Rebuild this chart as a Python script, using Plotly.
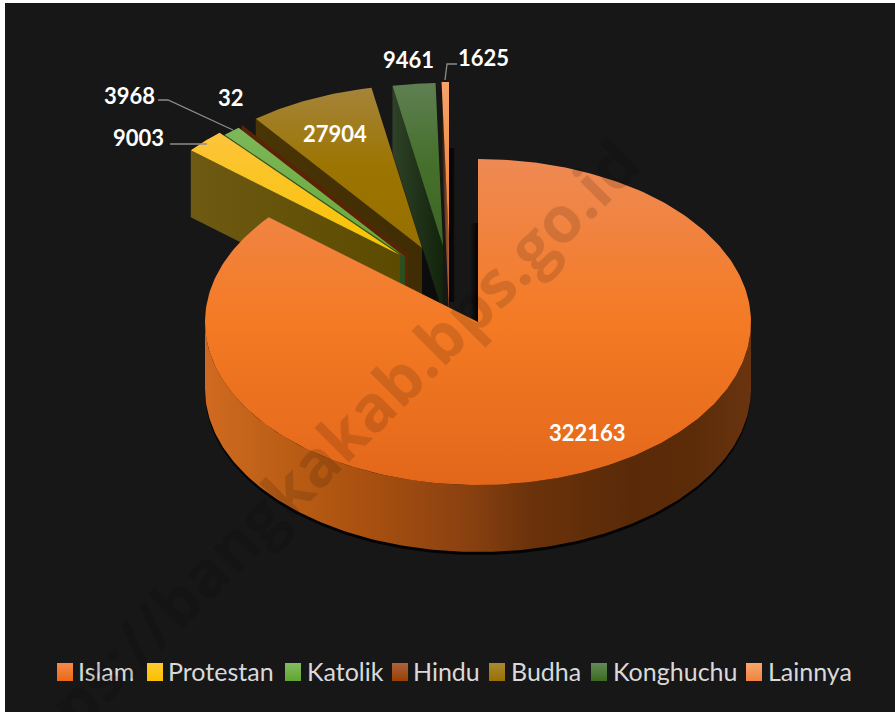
import numpy as np
import plotly.graph_objects as go

# ---- data ----
CATEGORIES = ["Islam", "Protestan", "Katolik", "Hindu", "Budha", "Konghuchu", "Lainnya"]
VALUES = [322163, 9003, 3968, 32, 27904, 9461, 1625]

# ---- styling / layout constants (pixel space of the 895x712 page) ----
W, H = 895, 712
PANEL = "#171717"
CX, CY, RX, RY, DEPTH = 478, 322, 273, 163, 67
PULL = [(0, 0), (-78, -67), (-73, -65), (-70, -68), (-56, -74), (-35, -76), (-29, -77)]
TOP_GRAD = [
    [[0, "#ee8a54"], [0.5, "#f47a24"], [1, "#e3671a"]],
    [[0, "#fdc43b"], [1, "#f8c400"]],
    [[0, "#7db75a"], [1, "#66a838"]],
    [[0, "#a9603a"], [1, "#9e480e"]],
    [[0, "#a5843a"], [0.5, "#9c7400"], [1, "#967000"]],
    [[0, "#5f7f52"], [0.5, "#45702b"], [1, "#3d6525"]],
    [[0, "#f7a36a"], [1, "#ed7d31"]],
]
WALL_GRAD = [
    None,
    [[0, "#6e5a12"], [1, "#5c4a00"]],
    [[0, "#2f5a24"], [1, "#2b4f1c"]],
    [[0, "#5a2305"], [1, "#5a2305"]],
    [[0, "#4a3505"], [1, "#3f2c03"]],
    [[0, "#2e4228"], [1, "#12240b"]],
    [[0, "#1a120c"], [1, "#b5622f"]],
]
ISLAM_WALL = [[0, "#d06a20"], [0.17, "#b85c14"], [0.3, "#a85010"], [0.48, "#8a4110"],
              [0.6, "#6a320a"], [0.78, "#5a2a08"], [0.9, "#5c2c09"], [1, "#6a3410"]]
LEG_TOP = ["#f58a4c", "#ffcb33", "#84bb60", "#ad6240", "#aa8836", "#648a58", "#f9a66c"]
LEG_BOT = ["#e96a14", "#fac000", "#62a532", "#984000", "#9a7000", "#3c6a20", "#ef8440"]
LEG_SWATCH_X = [57, 147, 285, 392, 489, 591, 746]
LEG_TEXT_X = [76, 166, 305, 411, 509, 611, 766]
LEG_Y0, LEG_Y1, LEG_TEXT_Y = 663, 681, 671
LABEL_POS = [(587, 432), (138, 137), (129, 95), (231, 97), (335, 133), (408, 59), (483, 57)]
LEADERS = [
    [(170, 144), (207, 144)],
    [(158, 100), (168, 100), (233, 130)],
    [(457, 64), (447, 64), (445, 80)],
]
FONT = "Lato"


def arc(a0, a1, n=160):
    t = np.radians(np.linspace(a0, a1, n))
    return CX + RX * np.sin(t), CY - RY * np.cos(t)


def add_poly(fig, xs, ys, grad=None, color=None, orient="vertical", start=None, stop=None):
    kw = dict(x=list(xs) + [xs[0]], y=list(ys) + [ys[0]], mode="lines", fill="toself",
              line=dict(width=0), hoverinfo="skip", showlegend=False)
    if grad is not None:
        kw["fillgradient"] = dict(type=orient, colorscale=grad, start=start, stop=stop)
        kw["fillcolor"] = grad[0][1]
    else:
        kw["fillcolor"] = color
    fig.add_trace(go.Scatter(**kw))


total = sum(VALUES)
ends = np.cumsum(VALUES) / total * 360
starts = np.concatenate([[0], ends[:-1]])

fig = go.Figure()

# soft drop shadows behind the thin back slices
add_poly(fig, [449, 455, 455, 449], [148, 148, 302, 302],
         grad=[[0, "#060606"], [0.7, "#080808"], [1, PANEL]], orient="horizontal", start=449, stop=455)
add_poly(fig, [470, 478, 478, 470], [223, 223, 322, 322],
         grad=[[0, PANEL], [0.5, "#0c0c0c"], [1, "#030303"]], orient="horizontal", start=470, stop=478)
add_poly(fig, [421, 443, 443, 421], [250, 250, 312, 300], color="#0c0c0c")

# slices back to front
for i in [6, 5, 4, 3, 2, 1]:
    dx, dy = PULL[i]
    ax, ay = arc(starts[i], ends[i], 40)
    ax, ay = ax + dx, ay + dy
    px, py = CX + dx, CY + dy
    add_poly(fig, [ax[0], px, px, ax[0]], [ay[0], py, py + DEPTH, ay[0] + DEPTH],
             grad=WALL_GRAD[i], orient="horizontal", start=float(ax[0]), stop=float(px))
    add_poly(fig, list(ax) + [px], list(ay) + [py], grad=TOP_GRAD[i],
             start=float(min(ay)), stop=float(py))

# Islam slice: thin shadow, outer wall, then top face
wx, wy = arc(90, 270, 200)
add_poly(fig, list(wx) + list(wx[::-1]), list(wy) + list((wy + DEPTH + 3)[::-1]), color="#040404")
add_poly(fig, list(wx) + list(wx[::-1]), list(wy) + list((wy + DEPTH)[::-1]),
         grad=ISLAM_WALL, orient="horizontal", start=CX - RX, stop=CX + RX)
tx, ty = arc(0, ends[0], 300)
add_poly(fig, list(tx) + [CX], list(ty) + [CY], grad=TOP_GRAD[0],
         start=CY - RY, stop=CY + RY)

# legend swatches and entries
annotations = []
for name, c0, c1, sx, tx_ in zip(CATEGORIES, LEG_TOP, LEG_BOT, LEG_SWATCH_X, LEG_TEXT_X):
    add_poly(fig, [sx, sx + 16, sx + 16, sx], [LEG_Y0, LEG_Y0, LEG_Y1, LEG_Y1],
             grad=[[0, c0], [1, c1]], start=LEG_Y0, stop=LEG_Y1)
    annotations.append(dict(text=name, x=tx_, y=LEG_TEXT_Y, xanchor="left", showarrow=False,
                            font=dict(family=FONT, size=25, color="#d9d9d9")))

# leader lines
for pts in LEADERS:
    path = "M " + " L ".join(f"{x} {y}" for x, y in pts)
    fig.add_shape(type="path", path=path, line=dict(color="#8c8c8c", width=1.3))

annotations += [
    dict(text=str(v), x=p[0], y=p[1], showarrow=False,
         font=dict(family=FONT, size=22, color="white", weight="bold"))
    for v, p in zip(VALUES, LABEL_POS)
]
annotations.append(dict(
    text="https://bangkakab.bps.go.id", x=308, y=468, showarrow=False, textangle=-45,
    font=dict(family="Open Sans", size=64, color="rgba(0,0,0,0.13)", weight="bold"),
))

fig.update_layout(
    width=W, height=H,
    margin=dict(l=5, r=0, t=3, b=0),
    paper_bgcolor="white", plot_bgcolor=PANEL, showlegend=False,
    xaxis=dict(range=[5, W], visible=False, fixedrange=True),
    yaxis=dict(range=[H, 3], visible=False, fixedrange=True),
    annotations=annotations,
)

fig.write_html("out.html", post_script="document.body.style.margin='0';", config={"displayModeBar": False})
